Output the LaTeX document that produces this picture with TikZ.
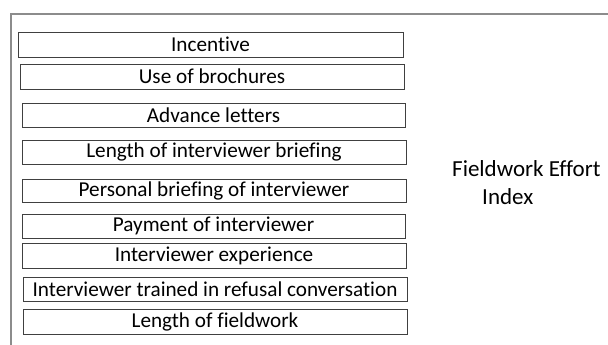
\documentclass[tikz,border=0pt]{standalone}
\usepackage{fontspec}
\setmainfont{Carlito}[Ligatures={NoCommon}]
\begin{document}
\begin{tikzpicture}[x=1pt,y=-1pt,
  factor/.style={draw=black!75,line width=0.9pt,inner sep=0pt,font=\fontsize{21.2}{23}\selectfont},
  label/.style={font=\fontsize{23}{27}\selectfont,anchor=west,inner sep=0pt},
  frame/.style={draw=black!45,line width=1.3pt}]
\useasboundingbox (0,0) rectangle (608,345);
\coordinate (ftop) at (608,14);
\coordinate (fcorner) at (11,14);
\coordinate (fbottom) at (11,345);
\draw[frame] (ftop) -- (fcorner) -- (fbottom);
\newcommand\factorbox[6]{\node[factor,minimum width=#4-#2,minimum height=#5-#3] (#1) at ({(#2+#4)/2},{(#3+#5)/2}) {#6};}
\factorbox{b1}{18}{32}{403}{57}{Incentive}
\factorbox{b2}{20}{64}{404}{89}{Use of brochures}
\factorbox{b3}{22}{103}{405}{127}{Advance letters}
\factorbox{b4}{22}{140}{406}{164}{Length of interviewer briefing}
\factorbox{b5}{22}{179}{406}{202}{Personal briefing of interviewer}
\factorbox{b6}{22}{214}{405}{238}{Payment of interviewer}
\factorbox{b7}{22}{243}{406}{268}{Interviewer experience}
\factorbox{b8}{23}{277}{407}{301}{Interviewer trained in refusal conversation}
\factorbox{b9}{23}{309}{407}{334}{Length of fieldwork}
\node[label] (fei1) at (452,169) {Fieldwork Effort};
\node[label] (fei2) at (482,197) {Index};
\end{tikzpicture}
\end{document}
